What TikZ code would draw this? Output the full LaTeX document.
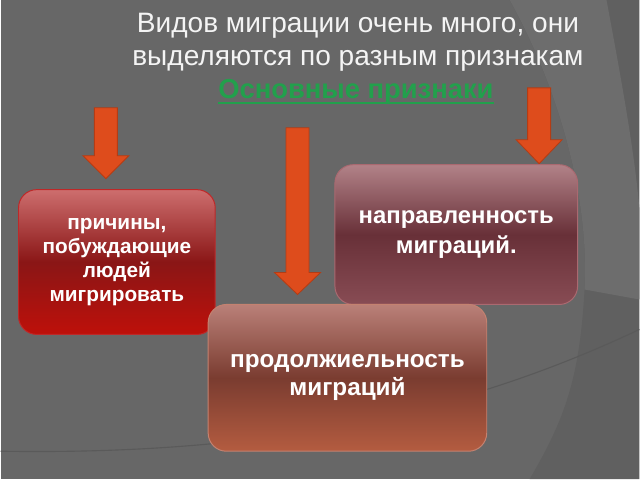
\documentclass[tikz,border=0pt]{standalone}
\usepackage{fontspec}
\setmainfont{Liberation Sans}
\usepackage{tikz}

\definecolor{slidebg}{RGB}{103,103,103}
\definecolor{bgdark}{RGB}{96,96,96}
\definecolor{bglight}{RGB}{109,109,109}
\definecolor{bgline}{RGB}{90,90,90}
\definecolor{titlegray}{RGB}{244,244,244}
\definecolor{signgreen}{RGB}{34,160,76}
\definecolor{arrowfill}{RGB}{222,76,28}
\definecolor{arrowline}{RGB}{180,60,20}

\tikzset{
  factor/.style={rounded corners=13pt, line width=0.7pt, text=white,
    font=\bfseries, align=center, inner sep=0pt},
  blockarrow/.style={fill=arrowfill, draw=arrowline, line width=0.6pt}
}

\begin{document}
\begin{tikzpicture}[x=0.025cm,y=-0.025cm]
\fill[slidebg](0,0) rectangle (640,480);
\fill[bgdark] (510,0) .. controls (560,90) and (590,200) .. (585,290)
  .. controls (580,380) and (565,420) .. (530,480) -- (640,480) -- (640,0) -- cycle;
\fill[bglight] (510,0) -- (607,0) .. controls (620,70) and (635,150) .. (640,210)
  -- (640,300) -- (585,290) .. controls (590,200) and (560,90) .. (510,0);
\draw[bgline, line width=0.8pt] (0,452) .. controls (250,456) and (450,420) .. (640,330);

\node[text=titlegray, align=center, font=\fontsize{20}{23.5}\selectfont] (title) at (358,42)
  {Видов миграции очень много, они\\выделяются по разным признакам};
\node[text=signgreen, font=\fontsize{19.5}{22}\bfseries, inner xsep=0pt] (sign) at (356,92) {Основные признаки};
\draw[signgreen, line width=1.4pt] ([yshift=-3pt]sign.base west) -- ([yshift=-3pt]sign.base east);

\foreach \cx/\ya/\yb/\yc in {105.5/108/156/179, 297.5/128/273/295, 539.5/88/140/164}
  \filldraw[blockarrow] (\cx-11.5,\ya) -- (\cx+11.5,\ya) -- (\cx+11.5,\yb) -- (\cx+23,\yb)
    -- (\cx,\yc) -- (\cx-23,\yb) -- (\cx-11.5,\yb) -- cycle;

\node[factor, draw={rgb,255:red,190;green,40;blue,40}, minimum width=4.925cm, minimum height=3.625cm,
  top color={rgb,255:red,205;green,110;blue,110}, bottom color={rgb,255:red,190;green,16;blue,10},
  middle color={rgb,255:red,138;green,22;blue,22},
  font=\fontsize{14.8}{16.9}\bfseries] (causes) at (116.5,262.5)
  {причины,\\побуждающие\\людей\\мигрировать};
\node[factor, draw={rgb,255:red,170;green,105;blue,112}, minimum width=6.075cm, minimum height=3.5cm,
  top color={rgb,255:red,178;green,130;blue,136}, bottom color={rgb,255:red,136;green,76;blue,84},
  middle color={rgb,255:red,104;green,48;blue,56},
  font=\fontsize{17}{21}\bfseries] (direction) at (456.5,235)
  {направленность\\миграций.};
\node[factor, draw={rgb,255:red,196;green,130;blue,112}, minimum width=6.975cm, minimum height=3.675cm,
  top color={rgb,255:red,186;green,128;blue,120}, bottom color={rgb,255:red,180;green,92;blue,64},
  middle color={rgb,255:red,122;green,60;blue,48},
  font=\fontsize{17.3}{20}\bfseries] (duration) at (347.5,378.5)
  {продолжиельность\\миграций};
\end{tikzpicture}
\end{document}
